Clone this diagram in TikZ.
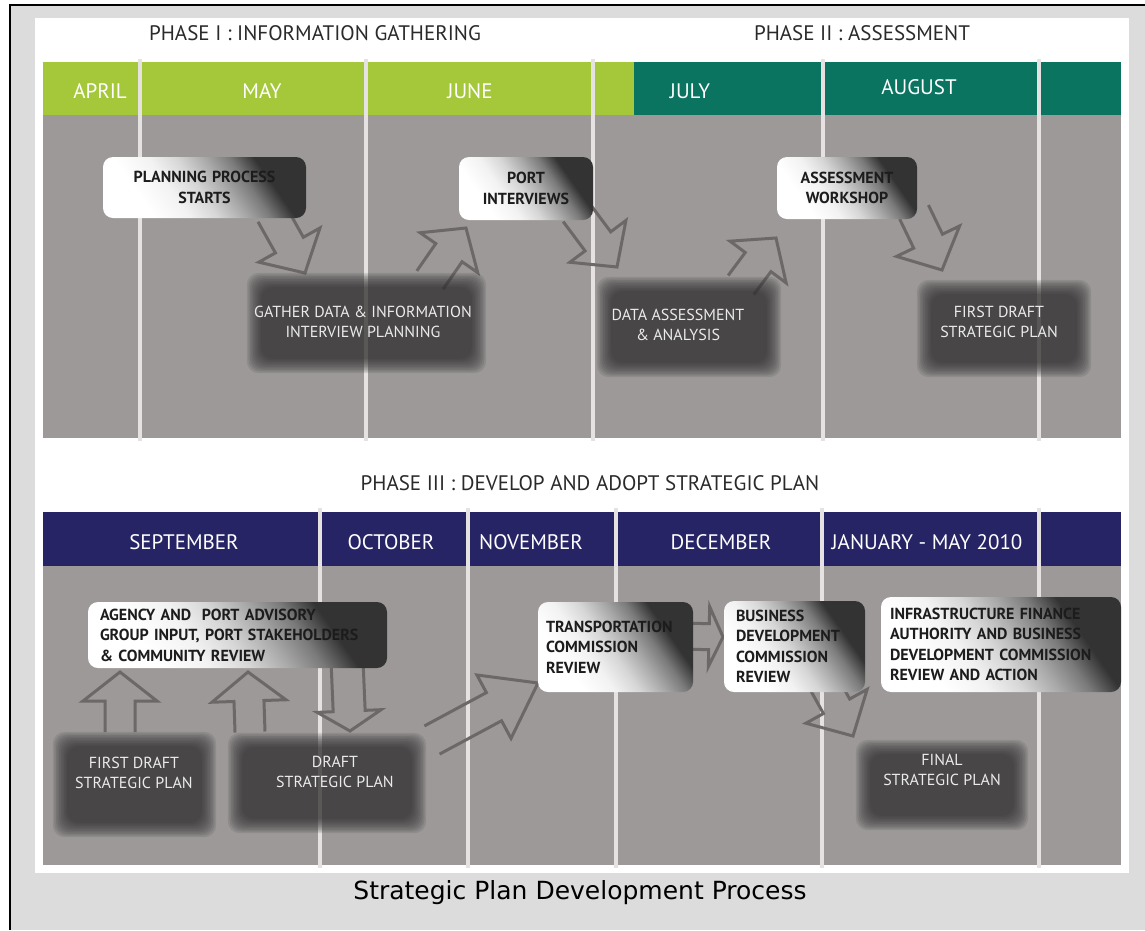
\documentclass[tikz,border=0pt]{standalone}
\usepackage{fontspec}
\setmainfont{PT Sans}
\newfontfamily\hdfont{PT Sans}
\newfontfamily\bxfont{PT Sans}
\newfontfamily\dkfont{PT Sans}
\newfontfamily\capfont{DejaVu Sans}
\usetikzlibrary{calc}
\definecolor{outerbg}{HTML}{DCDCDC}
\definecolor{lgreen}{HTML}{A4C83A}
\definecolor{dgreen}{HTML}{0B7460}
\definecolor{navy}{HTML}{262464}
\definecolor{panelgray}{HTML}{9D9999}
\definecolor{sepcol}{HTML}{E6E2E2}
\definecolor{arrowgray}{HTML}{6C6868}
\definecolor{darkfill}{HTML}{2F2E2E}
\definecolor{boxtext}{HTML}{1C1C1C}
\definecolor{phasetext}{HTML}{2A2A2A}
\pgfdeclarehorizontalshading{boxshade}{100bp}{color(0bp)=(white); color(30bp)=(white); color(40bp)=(white!95!black); color(48bp)=(white!84!black); color(56bp)=(white!66!black); color(63bp)=(black!52); color(70bp)=(black!80); color(100bp)=(black!80)}
\newcommand\blurit[1]{%
  \foreach \i in {0,...,9}{%
    \fill[darkfill, fill opacity=0.13, rounded corners=12pt]
      ([shift={(\i*1.6pt,\i*1.6pt)}]#1.south west) rectangle ([shift={(-\i*1.6pt,-\i*1.6pt)}]#1.north east);}}
\newcommand\blockarr[4]{% prefix, shaft half, head half, head length
  \coordinate (#1h) at ($(#1p)!#4!(#1t)$);
  \draw[blockarrow] ($(#1t)!#2!90:(#1p)$) -- ($(#1h)!#2!-90:(#1t)$) -- ($(#1h)!#3!-90:(#1t)$)
    -- (#1p) -- ($(#1h)!#3!90:(#1t)$) -- ($(#1h)!#2!90:(#1t)$) -- ($(#1t)!#2!-90:(#1p)$);}
\tikzset{
  phase/.style={font=\hdfont\fontsize{21}{24}\selectfont, text=phasetext, inner sep=0pt},
  month/.style={font=\hdfont\fontsize{21}{24}\selectfont, text=white, inner sep=0pt},
  sepstyle/.style={draw=sepcol, line width=3.5pt},
  blockarrow/.style={draw=arrowgray, line width=3pt, line join=miter},
  darkbox/.style={inner sep=0pt},
  darktext/.style={font=\dkfont\fontsize{16}{20}\selectfont, text=white!92!black, align=center, inner sep=0pt},
  gbox/.style={rounded corners=10pt, shading=boxshade, shading angle=35,
    font=\bxfont\bfseries\fontsize{16}{20.5}\selectfont, text=boxtext, align=center, inner ysep=0pt, inner xsep=10pt},
  gboxl/.style={gbox, align=left}
}
\begin{document}
\begin{tikzpicture}[x=1pt,y=-1pt]
\useasboundingbox (0,0) rectangle (1145,930);
\fill[white] (0,0) rectangle (1145,930);
\fill[outerbg] (10,5) rectangle (1145,930);
\draw[line width=1.6pt] (10,930) -- (10,5) -- (1145,5);
\fill[white] (35,18) rectangle (1129,873);
% ---------- top section
\fill[lgreen] (43,62) rectangle (634,115);
\fill[dgreen] (634,62) rectangle (1121,115);
\fill[panelgray] (43,115) rectangle (1121,438);
\foreach \x in {140,366,593,823,1039} \draw[sepstyle] (\x,59) -- (\x,441);
% ---------- bottom section
\fill[navy] (43,512) rectangle (1121,566);
\fill[panelgray] (43,566) rectangle (1121,865);
\foreach \x in {320,468,616,822,1039} \draw[sepstyle] (\x,508) -- (\x,868);
% ---------- headings
\node[phase] (ph1) at (315,33) {PHASE I : INFORMATION GATHERING};
\node[phase] (ph2) at (862,33) {PHASE II : ASSESSMENT};
\node[phase] (ph3) at (590,483) {PHASE III : DEVELOP AND ADOPT STRATEGIC PLAN};
\node[month] (apr) at (100,91) {APRIL};
\node[month] (may) at (262,91) {MAY};
\node[month] (jun) at (470,91) {JUNE};
\node[month] (jul) at (690,91) {JULY};
\node[month] (aug) at (919,87) {AUGUST};
\node[month] (sep) at (184,542) {SEPTEMBER};
\node[month] (oct) at (391,542) {OCTOBER};
\node[month] (nov) at (531,542) {NOVEMBER};
\node[month] (dec) at (721,542) {DECEMBER};
\node[month] (jan) at (927,542) {JANUARY - MAY 2010};
% ---------- arrows
\coordinate (a1t) at (272,214); \coordinate (a1p) at (305,273);
\coordinate (a2t) at (430,280); \coordinate (a2p) at (466,228);
\coordinate (a3t) at (576,212); \coordinate (a3p) at (617,267);
\coordinate (a4t) at (741,285); \coordinate (a4p) at (776,238);
\coordinate (a5t) at (914,212); \coordinate (a5p) at (942,270);
\coordinate (b1t) at (120,732); \coordinate (b1p) at (120,672);
\coordinate (b2t) at (250,732); \coordinate (b2p) at (248,672);
\coordinate (b3t) at (347,660); \coordinate (b3p) at (350,731);
\coordinate (b4t) at (432,740); \coordinate (b4p) at (538,683);
\coordinate (b5t) at (680,636); \coordinate (b5p) at (723,637);
\coordinate (b6t) at (822,680); \coordinate (b6p) at (853,736);
\blockarr{a1}{16pt}{35pt}{32pt}
\blockarr{a2}{16pt}{35pt}{30pt}
\blockarr{a3}{16pt}{35pt}{32pt}
\blockarr{a4}{16pt}{35pt}{30pt}
\blockarr{a5}{16pt}{35pt}{32pt}
\blockarr{b1}{15pt}{37pt}{29pt}
\blockarr{b2}{15pt}{37pt}{29pt}
\blockarr{b3}{16pt}{32pt}{20pt}
\blockarr{b4}{16pt}{36pt}{50pt}
\blockarr{b5}{13pt}{30pt}{14pt}
\blockarr{b6}{15pt}{35pt}{34pt}
% ---------- dark blurred boxes
\node[darkbox, minimum width=239pt, minimum height=100pt] (gatherbg) at (366.5,323) {};
\node[darkbox, minimum width=184pt, minimum height=100pt] (databg) at (689,327) {};
\node[darkbox, minimum width=174pt, minimum height=97pt] (fdtopbg) at (1004,328.5) {};
\node[darkbox, minimum width=163pt, minimum height=105pt] (fdbotbg) at (134.5,784.5) {};
\node[darkbox, minimum width=198pt, minimum height=100pt] (draftbg) at (327,783) {};
\node[darkbox, minimum width=172pt, minimum height=90pt] (finalbg) at (942,785) {};
\blurit{gatherbg}\blurit{databg}\blurit{fdtopbg}\blurit{fdbotbg}\blurit{draftbg}\blurit{finalbg}
\node[darktext] (gather) at (363,322) {GATHER DATA \& INFORMATION\\INTERVIEW PLANNING};
\node[darktext] (data) at (678,325) {DATA ASSESSMENT\\\& ANALYSIS};
\node[darktext] (fdtop) at (999,322) {FIRST DRAFT\\STRATEGIC PLAN};
\node[darktext] (fdbot) at (134,773) {FIRST DRAFT\\STRATEGIC PLAN};
\node[darktext] (draft) at (335,772) {DRAFT\\STRATEGIC PLAN};
\node[darktext] (final) at (942,770) {FINAL\\STRATEGIC PLAN};
% ---------- gradient boxes
\node[gbox, text width=183pt, minimum height=61pt] (plan) at (204.5,187.5) {PLANNING PROCESS\\STARTS};
\node[gbox, text width=114pt, minimum height=63pt] (port) at (526,188.5) {PORT\\INTERVIEWS};
\node[gbox, text width=120pt, minimum height=62pt] (work) at (847,188) {ASSESSMENT\\WORKSHOP};
\node[gboxl, inner xsep=12pt, text width=275pt, minimum height=66pt] (agency) at (237.5,635) {AGENCY AND\ \ PORT ADVISORY\\GROUP INPUT, PORT STAKEHOLDERS\\\& COMMUNITY REVIEW};
\node[gboxl, inner xsep=8pt, text width=139pt, minimum height=90pt] (trans) at (615.5,647) {TRANSPORTATION\\COMMISSION\\REVIEW};
\node[gboxl, inner xsep=12pt, text width=117pt, minimum height=91pt] (bus) at (794.5,646.5) {BUSINESS\\DEVELOPMENT\\COMMISSION\\REVIEW};
\node[gboxl, inner xsep=9pt, text width=222pt, minimum height=95pt] (infra) at (1001,644.5) {INFRASTRUCTURE FINANCE\\AUTHORITY AND BUSINESS\\DEVELOPMENT COMMISSION\\REVIEW AND ACTION};
% ---------- caption
\node[font=\capfont\fontsize{25}{30}\selectfont, inner sep=0pt] (caption) at (580,893) {Strategic Plan Development Process};
\end{tikzpicture}
\end{document}
